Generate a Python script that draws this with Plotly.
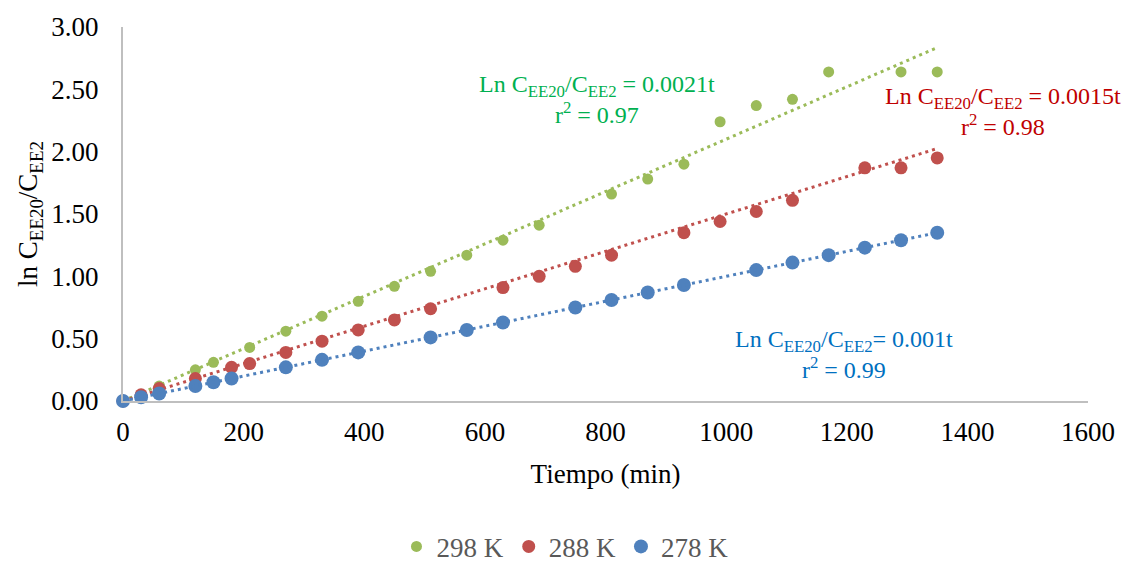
import plotly.graph_objects as go

# Tiempo (min) and ln(C_EE20/C_EE2) for each temperature
t_298 = [0, 30, 60, 120, 150, 210, 270, 330, 390, 450, 510, 570, 630, 690,
         810, 870, 930, 990, 1050, 1110, 1170, 1290, 1350]
y_298 = [0.00, 0.05, 0.12, 0.25, 0.31, 0.43, 0.56, 0.68, 0.80, 0.92, 1.04, 1.17,
         1.29, 1.41, 1.66, 1.78, 1.90, 2.24, 2.37, 2.42, 2.64, 2.64, 2.64]

t_288 = [0, 30, 60, 120, 180, 210, 270, 330, 390, 450, 510, 630, 690, 750,
         810, 930, 990, 1050, 1110, 1230, 1290, 1350]
y_288 = [0.00, 0.05, 0.10, 0.18, 0.27, 0.30, 0.39, 0.48, 0.57, 0.65, 0.74, 0.91,
         1.00, 1.08, 1.17, 1.35, 1.44, 1.52, 1.61, 1.87, 1.87, 1.95]

t_278 = [0, 30, 60, 120, 150, 180, 270, 330, 390, 510, 570, 630, 750, 810,
         870, 930, 1050, 1110, 1170, 1230, 1290, 1350]
y_278 = [0.00, 0.03, 0.06, 0.12, 0.15, 0.18, 0.27, 0.33, 0.39, 0.51, 0.57, 0.63,
         0.75, 0.81, 0.87, 0.93, 1.05, 1.11, 1.17, 1.23, 1.29, 1.35]

series_names = ["298 K", "288 K", "278 K"]
slopes = [0.0021, 0.0015, 0.001]          # fitted rate constants (min^-1)
r2_values = ["0.97", "0.98", "0.99"]
t_fit_end = 1350

marker_colors = ["#9BBB59", "#C0504D", "#4F81BD"]
marker_sizes = [11, 13, 14]
label_colors = ["#00B050", "#C00000", "#0070C0"]

x_ticks = [0, 200, 400, 600, 800, 1000, 1200, 1400, 1600]
y_ticks = [0.0, 0.5, 1.0, 1.5, 2.0, 2.5, 3.0]

serif = "Liberation Serif"

fig = go.Figure()

data = [(t_298, y_298), (t_288, y_288), (t_278, y_278)]
for (tx, ty), name, k, col, size in zip(data, series_names, slopes,
                                         marker_colors, marker_sizes):
    fig.add_trace(go.Scatter(
        x=tx, y=ty, mode="markers", name=name,
        marker=dict(color=col, size=size, line=dict(width=0)),
        cliponaxis=False,
    ))
    # linear trendline through the origin
    fig.add_trace(go.Scatter(
        x=[0, t_fit_end], y=[0, k * t_fit_end], mode="lines",
        line=dict(color=col, width=3, dash="3px,4px"),
        showlegend=False, hoverinfo="skip", cliponaxis=False,
    ))

# Equation labels for each trendline
eq_labels = [
    (f"Ln C<sub>EE20</sub>/C<sub>EE2</sub> = {slopes[0]}t<br>r<sup>2</sup> = {r2_values[0]}", 786, 2.42),
    (f"Ln C<sub>EE20</sub>/C<sub>EE2</sub> = {slopes[1]}t<br>r<sup>2</sup> = {r2_values[1]}", 1459, 2.32),
    (f"Ln C<sub>EE20</sub>/C<sub>EE2</sub>= {slopes[2]}t<br>r<sup>2</sup> = {r2_values[2]}", 1196, 0.37),
]
for (txt, ax_x, ax_y), col in zip(eq_labels, label_colors):
    fig.add_annotation(
        x=ax_x, y=ax_y, xref="x", yref="y", text=txt, showarrow=False,
        align="center", xanchor="center", yanchor="middle",
        font=dict(family=serif, size=24, color=col),
    )

fig.update_layout(
    width=1127, height=561,
    margin=dict(l=123, r=39, t=27, b=160, autoexpand=False),
    paper_bgcolor="white", plot_bgcolor="white",
    font=dict(family=serif, size=27, color="black"),
    showlegend=True,
    legend=dict(
        orientation="h", x=0.458, xanchor="center", y=-0.39, yanchor="middle",
        font=dict(family=serif, size=27, color="#595959"),
        itemwidth=30, bgcolor="rgba(0,0,0,0)",
    ),
    xaxis=dict(
        range=[0, 1600], tickmode="array", tickvals=x_ticks,
        ticktext=[str(v) for v in x_ticks],
        showgrid=False, zeroline=False,
        showline=True, linecolor="#BFBFBF", linewidth=2,
        ticks="", ticklabelstandoff=6, automargin=False,
        tickfont=dict(family=serif, size=27, color="black"),
        title=dict(text="Tiempo (min)", standoff=18,
                   font=dict(family=serif, size=27, color="black")),
    ),
    yaxis=dict(
        range=[0, 3], tickmode="array", tickvals=y_ticks,
        ticktext=[f"{v:.2f}" for v in y_ticks],
        showgrid=False, zeroline=False,
        showline=True, linecolor="#BFBFBF", linewidth=2,
        ticks="", ticklabelstandoff=17, automargin=False,
        tickfont=dict(family=serif, size=27, color="black"),
        title=dict(text="ln C<sub>EE20</sub>/C<sub>EE2</sub>", standoff=6,
                   font=dict(family=serif, size=27, color="black")),
    ),
)

fig.write_html("out.html")
